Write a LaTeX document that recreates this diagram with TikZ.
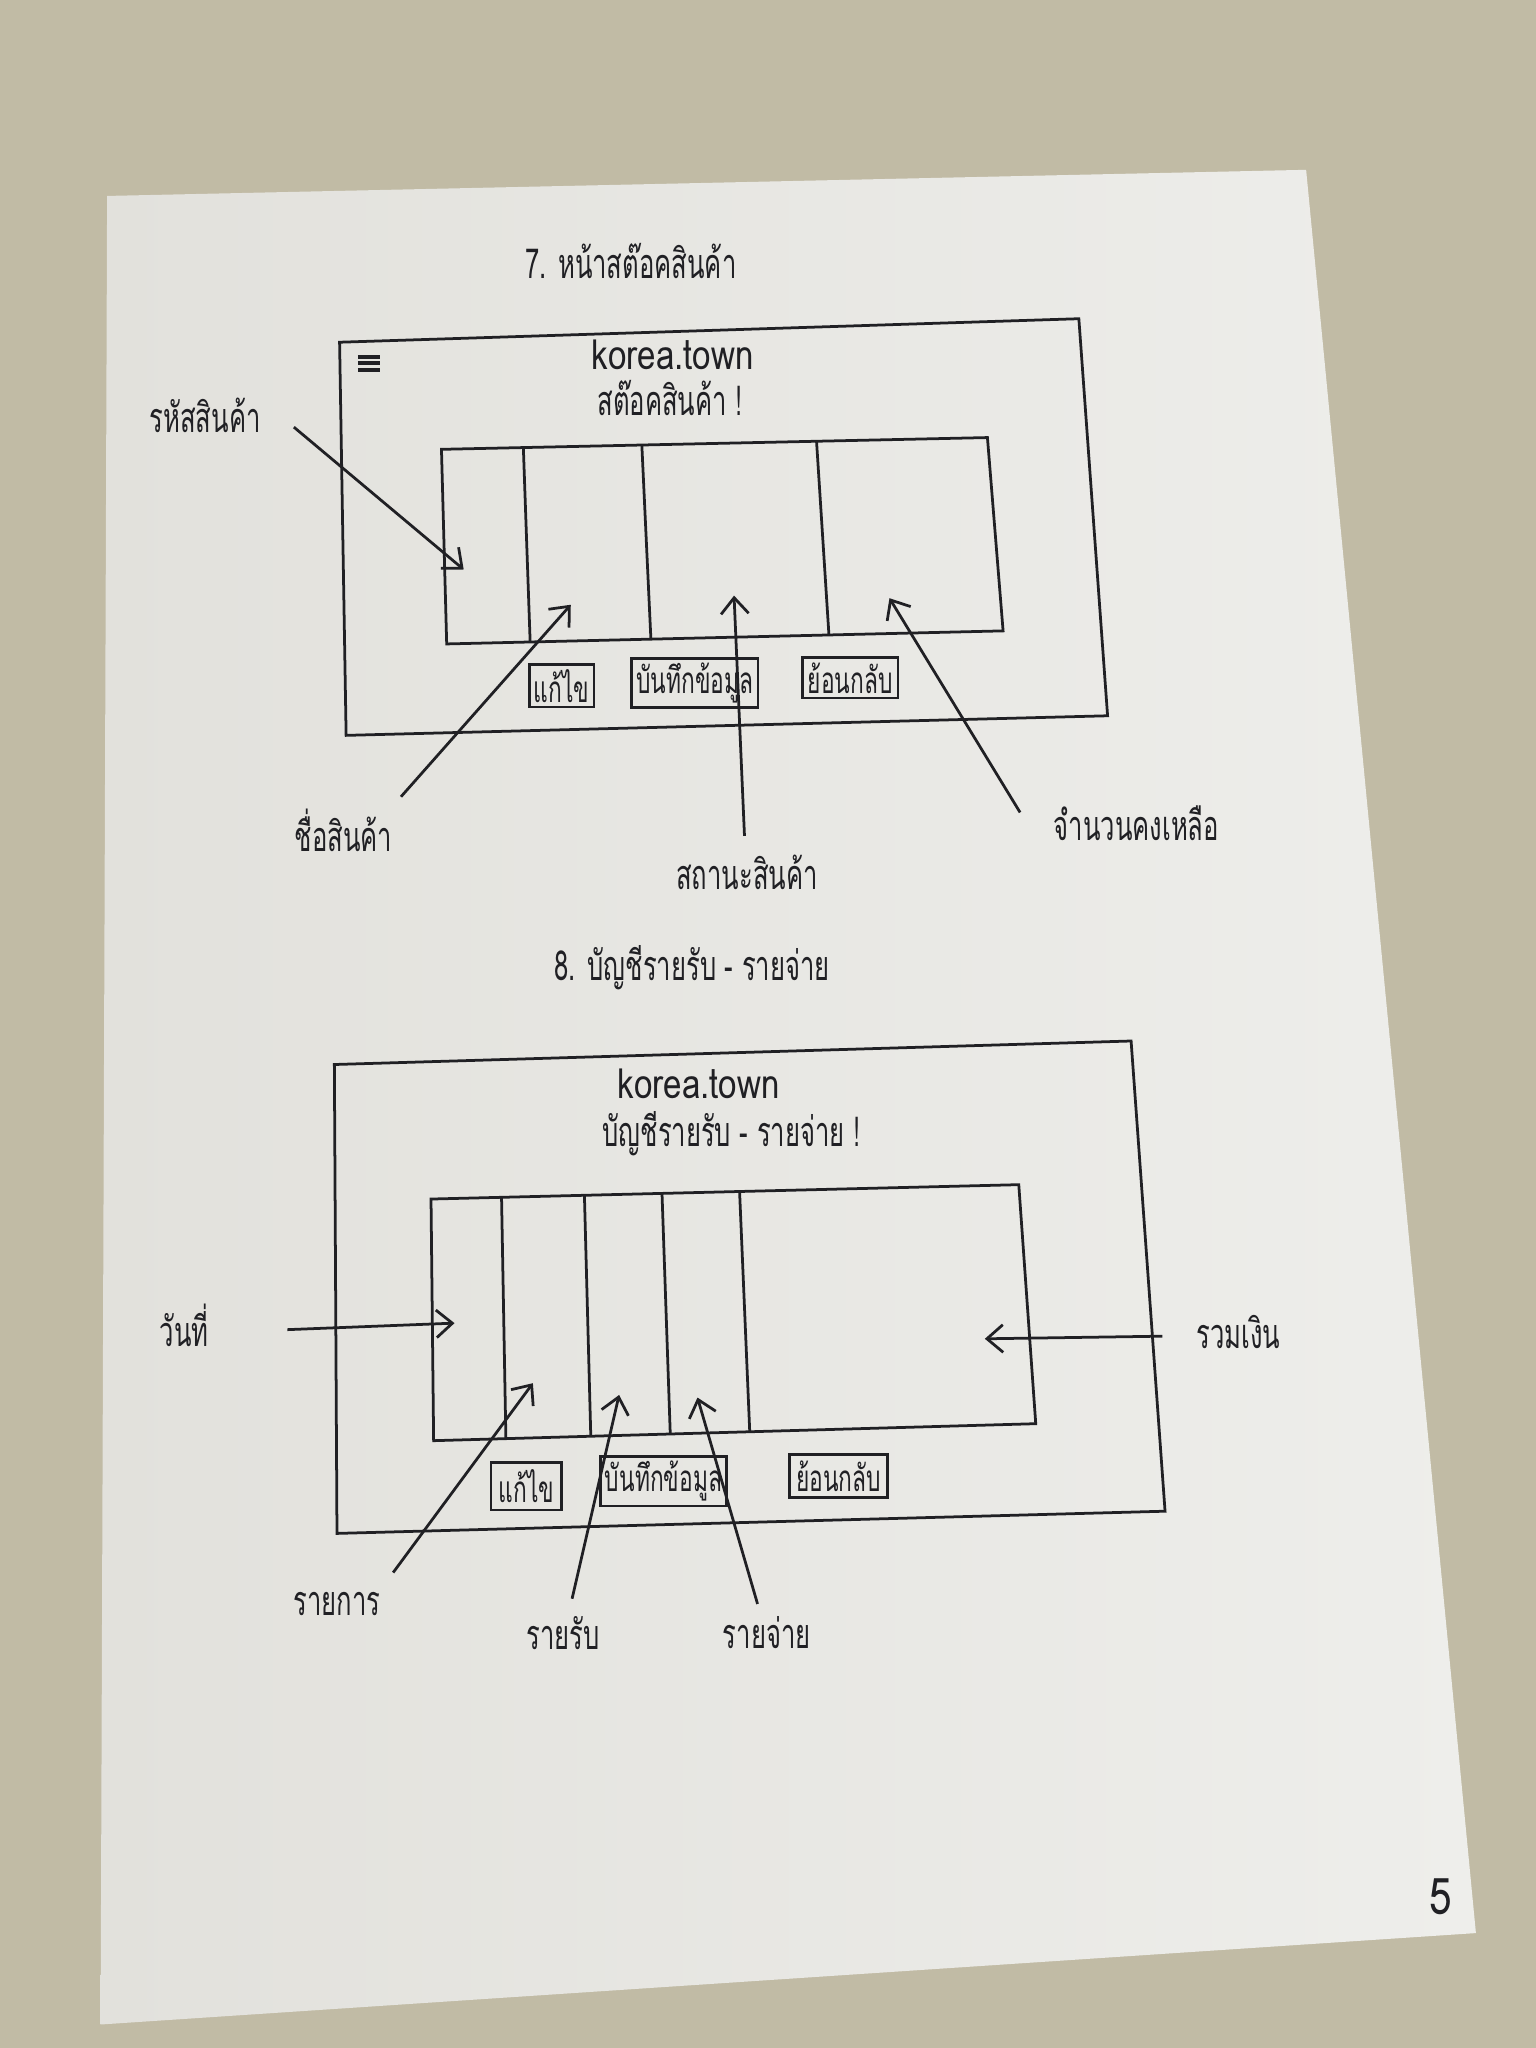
\documentclass[tikz,border=0pt]{standalone}
\usepackage{fontspec}
\newfontfamily\thai[Script=Thai,FakeStretch=0.62]{Loma}
\newfontfamily\latn[FakeStretch=0.8]{Loma}
\usetikzlibrary{arrows.meta,calc}
\definecolor{desk}{RGB}{193,187,165}
\definecolor{sheet}{RGB}{238,238,235}
\definecolor{sheetdark}{RGB}{226,225,220}
\definecolor{ink}{RGB}{32,32,36}
\begin{document}
\begin{tikzpicture}[x=0.01cm,y=-0.01cm,
  pen/.style={draw=ink,line width=0.6pt},
  arr/.style={pen,-{Straight Barb[length=3.5pt,width=6pt]}},
  hdr/.style={text=ink,font=\thai\fontsize{9}{10}\selectfont,inner sep=1pt},
  brand/.style={text=ink,font=\latn\fontsize{9}{10}\selectfont,inner sep=1pt},
  lbl/.style={text=ink,font=\thai\fontsize{9}{10}\selectfont,inner sep=1pt},
  btn/.style={pen,text=ink,font=\thai\fontsize{8}{9}\selectfont,inner sep=1pt,minimum height=0.3cm}]

% desk and sheet of paper
\fill[desk] (0,0) rectangle (1176,1568);
\useasboundingbox (0,0) rectangle (1176,1568);
\shade[left color=sheetdark,right color=sheet] (82,150) -- (1000,130) -- (1130,1480) -- (77,1550) -- cycle;

% ---------------- 7. stock page ----------------
\node[hdr] (title7) at (483,200) {7. หน้าสต๊อคสินค้า};

% screen frame
\coordinate (s7tl) at (260,262);
\coordinate (s7tr) at (826,244);
\coordinate (s7br) at (848,548);
\coordinate (s7bl) at (265,563);
\draw[pen] (s7tl) -- (s7tr) -- (s7br) -- (s7bl) -- cycle;

% menu icon
\foreach \yy in {273,278,283} \draw[pen,line width=0.9pt] (274,\yy) -- (291,\yy);

\node[brand] (brand7) at (515,272) {korea.town};
\node[hdr] (sub7) at (513,305) {สต๊อคสินค้า !};

% table
\coordinate (t7tl) at (338,344);
\coordinate (t7tr) at (756,335);
\coordinate (t7br) at (768,483);
\coordinate (t7bl) at (342,493);
\draw[pen] (t7tl) -- (t7tr) -- (t7br) -- (t7bl) -- cycle;
\foreach \f in {0.15,0.367,0.687}
  \draw[pen] ($(t7tl)!\f!(t7tr)$) -- ($(t7bl)!\f!(t7br)$);

% buttons
\node[btn,minimum width=0.46cm] (edit7) at (430,525) {แก้ไข};
\node[btn,minimum width=0.96cm] (save7) at (532,523) {บันทึกข้อมูล};
\node[btn,minimum width=0.73cm] (back7) at (651,519) {ย้อนกลับ};

% column labels
\coordinate (c71) at (355,436);
\coordinate (c72) at (437,463);
\coordinate (c73) at (562,456);
\coordinate (c74) at (681,458);
\node[lbl] (rhat) at (157,318) {รหัสสินค้า};
\node[lbl] (chue) at (263,636) {ชื่อสินค้า};
\node[lbl] (sathana) at (572,668) {สถานะสินค้า};
\node[lbl] (jamnuan) at (870,630) {จำนวนคงเหลือ};
\draw[arr] (rhat) ++(68,9) -- (c71);
\draw[arr] (chue) ++(44,-26) -- (c72);
\draw[arr] (sathana) ++(-2,-28) -- (c73);
\draw[arr] (jamnuan) ++(-89,-8) -- (c74);

% ---------------- 8. income / expense page ----------------
\node[hdr] (title8) at (530,741) {8. บัญชีรายรับ - รายจ่าย};

\coordinate (s8tl) at (256,815);
\coordinate (s8tr) at (866,797);
\coordinate (s8br) at (892,1157);
\coordinate (s8bl) at (258,1174);
\draw[pen] (s8tl) -- (s8tr) -- (s8br) -- (s8bl) -- cycle;

\node[brand] (brand8) at (535,830) {korea.town};
\node[hdr] (sub8) at (560,868) {บัญชีรายรับ - รายจ่าย !};

\coordinate (t8tl) at (330,918);
\coordinate (t8tr) at (780,907);
\coordinate (t8br) at (793,1090);
\coordinate (t8bl) at (332,1103);
\draw[pen] (t8tl) -- (t8tr) -- (t8br) -- (t8bl) -- cycle;
\foreach \f in {0.12,0.261,0.393,0.525}
  \draw[pen] ($(t8tl)!\f!(t8tr)$) -- ($(t8bl)!\f!(t8br)$);

\node[btn,minimum width=0.54cm,minimum height=0.36cm] (edit8) at (403,1138) {แก้ไข};
\node[btn,minimum width=0.96cm,minimum height=0.36cm] (save8) at (508,1134) {บันทึกข้อมูล};
\node[btn,minimum width=0.75cm,minimum height=0.33cm] (back8) at (642,1130) {ย้อนกลับ};

\coordinate (c81) at (348,1013);
\coordinate (c82) at (408,1059);
\coordinate (c83) at (474,1068);
\coordinate (c84) at (534,1070);
\coordinate (c85) at (754,1025);
\node[lbl] (wanthi) at (141,1015) {วันที่};
\node[lbl] (ruam) at (948,1020) {รวมเงิน};
\node[lbl] (raikan) at (258,1228) {รายการ};
\node[lbl] (rairap) at (431,1250) {รายรับ};
\node[lbl] (raijai) at (587,1250) {รายจ่าย};
\draw[arr] (wanthi) ++(79,3) -- (c81);
\draw[arr] (ruam) ++(-58,3) -- (c85);
\draw[arr] (raikan) ++(43,-24) -- (c82);
\draw[arr] (rairap) ++(7,-26) -- (c83);
\draw[arr] (raijai) ++(-7,-22) -- (c84);

% page number
\node[brand,font=\latn\fontsize{11}{12}\selectfont] (pageno) at (1103,1452) {5};
\end{tikzpicture}
\end{document}
